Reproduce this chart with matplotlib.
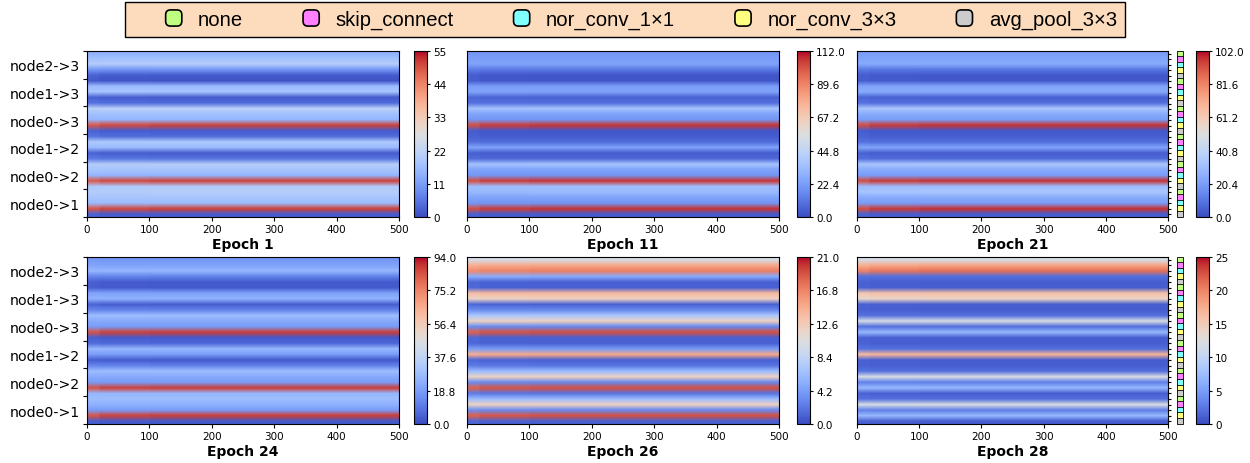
import matplotlib
matplotlib.use('Agg')  # no display in the sandbox
import matplotlib.pyplot as plt
import matplotlib.patches as mpatches
import matplotlib.transforms as mtransforms
from matplotlib.patches import FancyBboxPatch
from matplotlib.legend_handler import HandlerPatch
import numpy as np

# --- data ---
edge_labels = ['node2->3', 'node1->3', 'node0->3', 'node1->2', 'node0->2', 'node0->1']  # top to bottom
op_names = ['none', 'skip_connect', 'nor_conv_1×1', 'nor_conv_3×3', 'avg_pool_3×3']
op_colors = ['#bffe80', '#ff80ff', '#80ffff', '#ffff80', '#cccccc']
epochs = [1, 11, 21, 24, 26, 28]
vmaxes = [55, 112.0, 102.0, 94.0, 21.0, 25]
n_steps = 500

# one value per row (6 edges x 5 ops), top row first
ep1 = [14, 17, 20, 10, 2, 1, 16, 18, 2, 4,
       21, 17, 15, 51, 2, 4, 19, 16, 2, 5,
       20, 18, 15, 51, 19, 20, 18, 16, 51, 2]
ep11 = [20, 22, 24, 12, 3, 3, 22, 24, 6, 9,
        36, 24, 20, 106, 3, 4, 8, 24, 4, 7,
        36, 24, 20, 106, 34, 32, 24, 20, 106, 4]
ep21 = [20, 22, 24, 10, 3, 3, 22, 24, 5, 8,
        34, 24, 20, 97, 3, 4, 8, 22, 4, 7,
        34, 24, 20, 97, 30, 34, 24, 20, 97, 4]
ep24 = [17, 20, 26, 12, 3, 3, 20, 24, 4, 12,
        28, 22, 18, 88, 3, 6, 26, 18, 3, 12,
        28, 22, 18, 88, 26, 28, 24, 18, 88, 3]
ep26 = [10, 15, 17, 5, 1, 1, 14, 12, 1, 3,
        7, 12, 3, 19, 1, 1, 4, 15, 1, 2,
        6, 12, 3, 19, 2, 6, 12, 3, 19, 1]
ep28 = [12, 18, 21, 2, 1, 1, 16, 14, 1, 1,
        2, 12, 2, 7, 1, 1, 2, 17, 1, 1,
        2, 12, 3, 7, 1, 2, 12, 3, 7, 1]
epoch_rows = [ep1, ep11, ep21, ep24, ep26, ep28]

# the first steps look a little washed out
warmup_start = [0, 20, 100]
warmup_contrast = [0.94, 0.985, 1.0]

W, H = 1250, 464
fig = plt.figure(figsize=(W / 100, H / 100), dpi=100)


def px_box(x0, y0, x1, y1):
    return [x0 / W, 1 - y1 / H, (x1 - x0) / W, (y1 - y0) / H]


col_x = [(87, 399), (467, 779), (857, 1168)]
cbar_x = [(414, 427), (797, 810), (1196, 1209)]
row_y = [(52, 218), (258, 425)]

contrast = np.ones(n_steps)
for start, c in zip(warmup_start, warmup_contrast):
    contrast[start:] = c

for k, (ep, vmax, rows) in enumerate(zip(epochs, vmaxes, epoch_rows)):
    r, c = divmod(k, 3)
    ax = fig.add_axes(px_box(col_x[c][0], row_y[r][0], col_x[c][1], row_y[r][1]))
    vals = np.array(rows, dtype=float)
    mean = vals.mean()
    grid = mean + (vals[:, None] - mean) * contrast[None, :]
    im = ax.imshow(grid, cmap='coolwarm', vmin=0, vmax=vmax, aspect='auto',
                   interpolation='bilinear', extent=(0, n_steps, len(vals), 0))
    ax.set_xticks(range(0, n_steps + 1, 100))
    ax.tick_params(axis='x', labelsize=7.5, length=3, pad=2)
    ax.set_xlabel(f'Epoch {ep}', fontsize=10, fontweight='bold', labelpad=2)

    if c == 0:
        ax.set_yticks(np.arange(0, 31, 5))
        ax.set_yticklabels([])
        ax.set_yticks(np.arange(2.5, 30, 5), minor=True)
        ax.set_yticklabels(edge_labels, minor=True, fontsize=10.2)
        ax.tick_params(axis='y', which='minor', length=0, pad=5)
        ax.tick_params(axis='y', which='major', length=3)
    elif c == 1:
        ax.set_yticks([])
    else:
        # op colour key next to each row
        ax.yaxis.tick_right()
        ax.set_yticks(np.arange(len(vals)) + 0.5)
        ax.set_yticklabels([])
        ax.tick_params(axis='y', length=2.5)
        trans = mtransforms.blended_transform_factory(ax.transAxes, ax.transData)
        sq_colors = [op_colors[i % 5] for i in range(len(vals))]
        ax.scatter(np.full(len(vals), 1.039), np.arange(len(vals)) + 0.5,
                   marker='s', s=22, c=sq_colors, edgecolors='black',
                   linewidths=0.6, transform=trans, clip_on=False, zorder=5)

    cax = fig.add_axes(px_box(cbar_x[c][0], row_y[r][0], cbar_x[c][1], row_y[r][1]))
    ticks = np.linspace(0, vmax, 6)
    cb = fig.colorbar(im, cax=cax, ticks=ticks)
    if isinstance(vmax, int):
        cb.ax.set_yticklabels([f'{t:.0f}' for t in ticks])
    else:
        cb.ax.set_yticklabels([f'{t:.1f}' for t in ticks])
    cb.ax.tick_params(labelsize=7.5, length=2.5, pad=2)


def round_box(legend, orig_handle, xdescent, ydescent, width, height, fontsize):
    # square sits at the right end of the handle slot
    side = min(width, height)
    return FancyBboxPatch((-xdescent + width - side, -ydescent + (height - side) / 2),
                          side, side, boxstyle='round,pad=0,rounding_size=3.5')


handles = [mpatches.Patch(facecolor=col, edgecolor='black', linewidth=1.2) for col in op_colors]
leg = fig.legend(handles, op_names, loc='upper center', bbox_to_anchor=(0.5, 1 - 3 / H),
                 ncol=5, frameon=True, fancybox=False, edgecolor='black', facecolor='#fddcbd',
                 framealpha=1, prop={'family': 'Liberation Sans', 'size': 14.6},
                 handlelength=2.4, handleheight=0.85, handletextpad=0.8,
                 columnspacing=1.35, borderpad=0.39, borderaxespad=0,
                 handler_map={mpatches.Patch: HandlerPatch(patch_func=round_box)})
leg.get_frame().set_linewidth(1.0)

fig.savefig('out.png', dpi=100)
